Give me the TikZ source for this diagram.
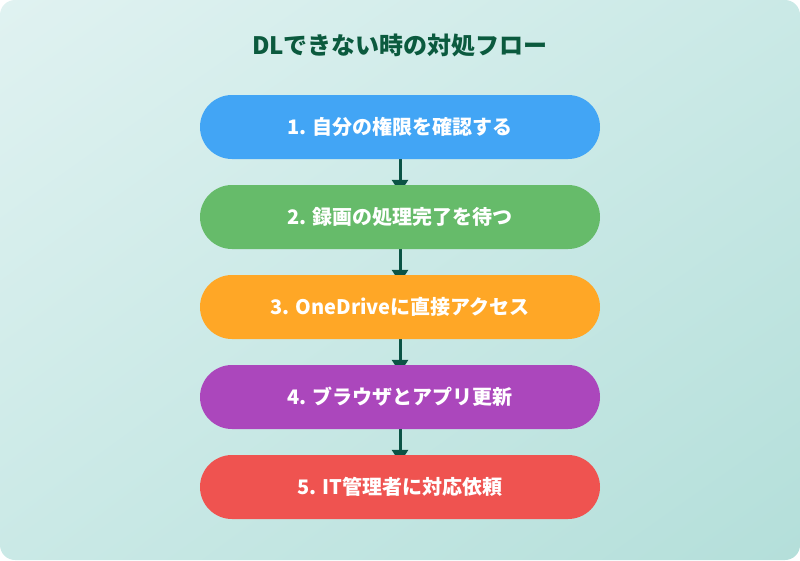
\documentclass[tikz,border=0pt]{standalone}
\usepackage{fontspec}
\setmainfont{Noto Sans CJK JP}
\usepackage{xcolor}
\usepackage{tikz}
\usetikzlibrary{arrows.meta,positioning,shadings}

\definecolor{bgTL}{HTML}{E0F2F1}
\definecolor{bgBR}{HTML}{B4DFDA}
\definecolor{bgMid}{HTML}{CAE9E6}
\definecolor{titleGreen}{HTML}{0B5A3E}
\definecolor{linkGreen}{HTML}{0B5345}
\definecolor{stepBlue}{HTML}{42A5F5}
\definecolor{stepGreen}{HTML}{66BB6A}
\definecolor{stepOrange}{HTML}{FFA726}
\definecolor{stepPurple}{HTML}{AB47BC}
\definecolor{stepRed}{HTML}{EF5350}

\pgfdeclarelayer{bg}
\pgfdeclarelayer{links}
\pgfsetlayers{bg,links,main}

\begin{document}
\begin{tikzpicture}[x=1pt,y=-1pt,
    flowbox/.style={rectangle, rounded corners=32pt, minimum width=400pt,
        minimum height=64pt, inner sep=0pt, text=white,
        font=\fontsize{20}{24}\selectfont\bfseries},
    flowlink/.style={draw=linkGreen, line width=3pt,
        -{Triangle[width=16pt,length=13pt]}, shorten >=-8pt}]
    \useasboundingbox (0,0) rectangle (800,560);

    % Background panel
    \begin{pgfonlayer}{bg}
        \shade[upper left=bgTL, lower right=bgBR, upper right=bgMid, lower left=bgMid,
            rounded corners=15pt] (0,0) rectangle (800,560);
    \end{pgfonlayer}

    % Title
    \node[text=titleGreen, font=\fontsize{24}{28}\selectfont\bfseries] (title) at (400,45)
        {DLできない時の対処フロー};

    % Steps
    \foreach \i/\col/\txt in {1/stepBlue/{1. 自分の権限を確認する},
                             2/stepGreen/{2. 録画の処理完了を待つ},
                             3/stepOrange/{3. OneDriveに直接アクセス},
                             4/stepPurple/{4. ブラウザとアプリ更新},
                             5/stepRed/{5. IT管理者に対応依頼}} {
        \node[flowbox, fill=\col] (s\i) at (400,37+90*\i) {\txt};
    }

    % Links
    \begin{pgfonlayer}{links}
        \foreach \i/\j in {1/2,2/3,3/4,4/5} {
            \draw[flowlink] (s\i.south) -- (s\j.north);
        }
    \end{pgfonlayer}
\end{tikzpicture}
\end{document}
